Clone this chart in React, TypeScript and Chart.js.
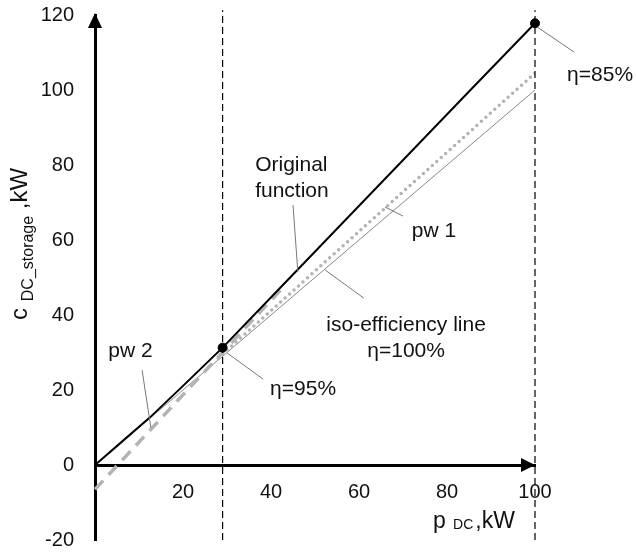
import React, { useEffect, useRef } from 'react';
import { Chart, registerables } from 'chart.js';

Chart.register(...registerables);

// ---- data ----
const originalP = [0, 6, 12.5, 20, 29, 45, 65, 85, 100];
const originalC = [0, 6.1, 12.7, 21.1, 31.3, 50.8, 75.2, 99.6, 117.8];

const pw1P = [28, 100];
const pw1C = [28.5, 104.5];

const pw2P = [0, 43];
const pw2C = [-6.5, 47.7];

const isoP = [0, 100];
const isoC = [0, 100];

const markerP = [29, 100];
const markerC = [31.3, 117.8];

const guideP = [29, 100];
const guideBottom = -20;
const guideTop = 121.3;

const xTicks = [0, 20, 40, 60, 80, 100];
const yTicks = [-20, 0, 20, 40, 60, 80, 100, 120];

// annotation texts (anchors in data units)
const noteTexts = ['Original', 'function', 'pw 1', 'iso-efficiency line', 'η=100%', 'η=95%', 'η=85%', 'pw 2'];
const noteX = [36.4, 36.4, 72, 70.7, 70.7, 39.8, 107.3, 3];
const noteY = [78.4, 71.5, 60.8, 35.7, 28.8, 18.7, 102.4, 28.8];
const noteAlign = ['left', 'left', 'left', 'center', 'center', 'left', 'left', 'left'];

// leader lines (data units): x1, y1, x2, y2
const leaderX1 = [45, 65.9, 52.3, 30, 100.5, 10.7];
const leaderY1 = [69.3, 68.8, 52, 29.9, 116.8, 25.3];
const leaderX2 = [46.1, 70, 61.1, 38.2, 108.9, 12.7];
const leaderY2 = [51.5, 66.4, 44.5, 22.9, 110.1, 9.9];

const FONT = '"Liberation Sans", Arial, sans-serif';
const TEXT = '#111';

const pts = (xs: number[], ys: number[]) => xs.map((x, i) => ({ x, y: ys[i] }));

const decorPlugin = {
  id: 'decor',
  afterDraw(chart: any) {
    const { ctx, chartArea, scales } = chart;
    const xs = scales.x;
    const ys = scales.y;
    const px = (v: number) => xs.getPixelForValue(v);
    const py = (v: number) => ys.getPixelForValue(v);
    ctx.save();
    // arrowheads
    ctx.fillStyle = '#000';
    const x0 = chartArea.left;
    const yTop = chartArea.top - 2;
    ctx.beginPath();
    ctx.moveTo(x0, yTop);
    ctx.lineTo(x0 - 7, yTop + 15);
    ctx.lineTo(x0 + 7, yTop + 15);
    ctx.closePath();
    ctx.fill();
    const yZero = py(0);
    const xEnd = chartArea.right;
    ctx.beginPath();
    ctx.moveTo(xEnd, yZero);
    ctx.lineTo(xEnd - 14, yZero - 7);
    ctx.lineTo(xEnd - 14, yZero + 7);
    ctx.closePath();
    ctx.fill();

    // leader lines
    ctx.strokeStyle = '#777';
    ctx.lineWidth = 1;
    for (let i = 0; i < leaderX1.length; i++) {
      ctx.beginPath();
      ctx.moveTo(px(leaderX1[i]), py(leaderY1[i]));
      ctx.lineTo(px(leaderX2[i]), py(leaderY2[i]));
      ctx.stroke();
    }

    // notes
    ctx.fillStyle = TEXT;
    ctx.font = `21px ${FONT}`;
    ctx.textBaseline = 'alphabetic';
    for (let i = 0; i < noteTexts.length; i++) {
      ctx.textAlign = noteAlign[i];
      ctx.fillText(noteTexts[i], px(noteX[i]), py(noteY[i]));
    }

    // x title: p DC,kW
    ctx.textAlign = 'left';
    let tx = px(76.8);
    const tb = py(-16.8);
    ctx.font = `23px ${FONT}`;
    ctx.fillText('p ', tx, tb);
    tx += ctx.measureText('p ').width + 1;
    ctx.font = `14px ${FONT}`;
    ctx.fillText('DC', tx, tb + 1);
    tx += ctx.measureText('DC').width + 2;
    ctx.font = `23px ${FONT}`;
    ctx.fillText(',kW', tx, tb);

    // y title: c DC_storage ,kW (rotated)
    ctx.translate(chartArea.left - 68, py(38.7));
    ctx.rotate(-Math.PI / 2);
    let ty = 0;
    ctx.font = `24px ${FONT}`;
    ctx.fillText('c ', ty, 0);
    ty += ctx.measureText('c ').width;
    ctx.font = `16px ${FONT}`;
    ctx.fillText('DC_storage', ty, 6);
    ty += ctx.measureText('DC_storage').width;
    ctx.font = `24px ${FONT}`;
    ctx.fillText(' ,kW', ty, 0);
    ctx.restore();
  },
};

export default function App() {
  const ref = useRef<HTMLCanvasElement | null>(null);
  useEffect(() => {
    if (!ref.current) return;
    const chart = new Chart(ref.current, {
      type: 'scatter',
      data: {
        datasets: [
          {
            label: 'markers',
            data: pts(markerP, markerC),
            pointRadius: 4.5,
            pointBackgroundColor: '#000',
            pointBorderColor: '#000',
            showLine: false,
            order: 0,
            clip: false,
          },
          {
            label: 'Original function',
            data: pts(originalP, originalC),
            borderColor: '#000',
            borderWidth: 2,
            pointRadius: 0,
            showLine: true,
            order: 1,
          },
          {
            label: 'guide 1',
            data: [
              { x: guideP[0], y: guideBottom },
              { x: guideP[0], y: guideTop },
            ],
            borderColor: '#000',
            borderWidth: 1.2,
            borderDash: [7, 4],
            pointRadius: 0,
            showLine: true,
            order: 2,
            clip: false,
          },
          {
            label: 'guide 2',
            data: [
              { x: guideP[1], y: guideBottom },
              { x: guideP[1], y: guideTop },
            ],
            borderColor: '#000',
            borderWidth: 1.2,
            borderDash: [7, 4],
            pointRadius: 0,
            showLine: true,
            order: 2,
            clip: false,
          },
          {
            label: 'pw 1',
            data: pts(pw1P, pw1C),
            borderColor: '#b3b3b3',
            borderWidth: 3.5,
            borderDash: [0, 6],
            borderCapStyle: 'round',
            pointRadius: 0,
            showLine: true,
            order: 3,
          },
          {
            label: 'pw 2',
            data: pts(pw2P, pw2C),
            borderColor: '#b3b3b3',
            borderWidth: 3.5,
            borderDash: [12, 8],
            pointRadius: 0,
            showLine: true,
            order: 4,
            clip: false,
          },
          {
            label: 'iso-efficiency line',
            data: pts(isoP, isoC),
            borderColor: '#8a8a8a',
            borderWidth: 1,
            pointRadius: 0,
            showLine: true,
            order: 5,
          },
        ],
      },
      options: {
        animation: false,
        responsive: true,
        maintainAspectRatio: false,
        events: [],
        layout: { padding: { top: 15, right: 101, bottom: 18, left: 0 } },
        plugins: { legend: { display: false }, tooltip: { enabled: false } },
        scales: {
          x: {
            type: 'linear',
            min: 0,
            max: 100,
            position: { y: 0 },
            afterBuildTicks: (s: any) => {
              s.ticks = xTicks.map((v) => ({ value: v }));
            },
            afterFit: (s: any) => {
              s.paddingLeft = 0;
              s.paddingRight = 0;
            },
            ticks: {
              padding: 15,
              color: TEXT,
              font: { family: FONT, size: 20 },
              maxRotation: 0,
              autoSkip: false,
              callback: (v: any) => (v === 0 ? '' : String(v)),
            },
            grid: { display: false, drawTicks: false },
            border: { display: true, color: '#000', width: 3 },
          },
          y: {
            type: 'linear',
            min: -20,
            max: 120,
            afterBuildTicks: (s: any) => {
              s.ticks = yTicks.map((v) => ({ value: v }));
            },
            afterFit: (s: any) => {
              s.width = 95;
              s.paddingTop = 0;
              s.paddingBottom = 0;
            },
            ticks: {
              padding: 21,
              color: TEXT,
              font: { family: FONT, size: 20 },
              autoSkip: false,
            },
            grid: { display: false, drawTicks: false },
            border: { display: true, color: '#000', width: 3 },
          },
        },
      },
      plugins: [decorPlugin],
    } as any);
    return () => chart.destroy();
  }, []);

  return (
    <div style={{ position: 'fixed', left: 0, top: 0, width: 636, height: 558, background: '#fff' }}>
      <canvas ref={ref} />
    </div>
  );
}
